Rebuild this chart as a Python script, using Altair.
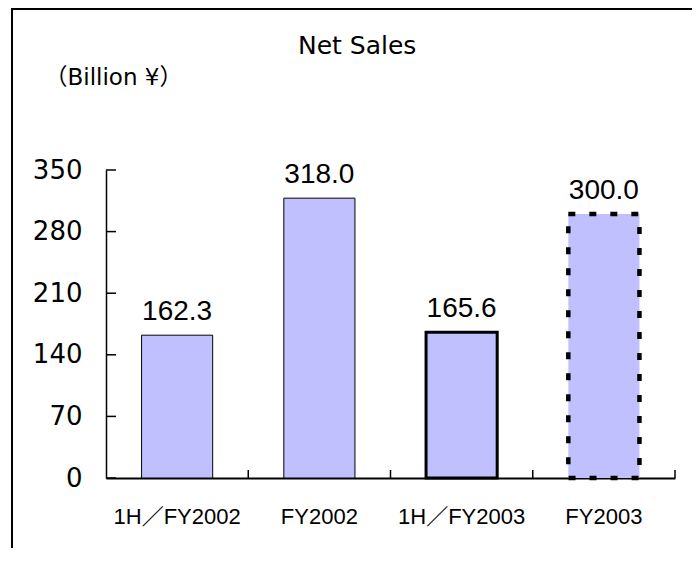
import altair as alt
import pandas as pd

# ---- data ----
categories = ["1H／FY2002", "FY2002", "1H／FY2003", "FY2003"]
net_sales = [162.3, 318.0, 165.6, 300.0]
value_labels = ["162.3", "318.0", "165.6", "300.0"]
y_tick_values = [0, 70, 140, 210, 280, 350]

df = pd.DataFrame({"period": categories, "sales": net_sales, "label": value_labels})
ticks_df = pd.DataFrame({"sales": y_tick_values})
one_df = pd.DataFrame({"k": [0]})

FONT = "Liberation Sans, Noto Sans CJK JP"
FONT_WIDE = "DejaVu Sans, Noto Sans CJK JP"
FILL = "#C0C0FF"
W, H = 569, 308
STEP = W / 4.0

xscale = alt.Scale(paddingInner=0.5, paddingOuter=0.25)
yscale = alt.Scale(domain=[0, 350], nice=False)

x_axis = alt.Axis(labelAngle=0, ticks=False, tickSize=0, labelPadding=28,
                  labelFontSize=22, labelFont=FONT, labelColor="black",
                  domainColor="black", domainWidth=2, labelBaseline="top", grid=False)
y_axis = alt.Axis(values=y_tick_values, ticks=False, tickSize=0, labelPadding=24,
                  labelFontSize=26, labelFont=FONT_WIDE, labelColor="black",
                  domainColor="black", domainWidth=1.5, grid=False,
                  titleAngle=0, titleX=-62, titleY=-86, titleAlign="left",
                  titleBaseline="alphabetic", titleFontSize=23, titleFont=FONT_WIDE,
                  titleFontWeight="normal", titleColor="black")


def X(**kw):
    return alt.X("period:N", sort=categories, scale=xscale, title=None, axis=x_axis, **kw)


def Y():
    return alt.Y("sales:Q", scale=yscale, title="（Billion ¥）", axis=y_axis)


base = alt.Chart(df)

bars_thin = base.transform_filter(
    alt.FieldOneOfPredicate(field="period", oneOf=categories[:2])
).mark_bar(fill=FILL, stroke="black", strokeWidth=1).encode(x=X(), y=Y())

bar_thick = base.transform_filter(
    alt.FieldEqualPredicate(field="period", equal=categories[2])
).mark_bar(fill=FILL, stroke="black", strokeWidth=3).encode(x=X(), y=Y())

bar_dash = base.transform_filter(
    alt.FieldEqualPredicate(field="period", equal=categories[3])
).mark_bar(fill=FILL, stroke="black", strokeWidth=4.5, strokeDash=[7, 14]).encode(
    x=X(), y=Y())

labels = base.mark_text(
    baseline="alphabetic", dy=-15, fontSize=28, font=FONT, color="black"
).encode(x=X(), y=Y(), text="label:N")

y_ticks = alt.Chart(ticks_df).mark_rule(color="black", strokeWidth=1.5).encode(
    y=Y(), x=alt.value(0), x2=alt.value(10))

x_ticks = base.mark_rule(color="black", strokeWidth=1.5, xOffset=STEP / 2).encode(
    x=X(bandPosition=0.5), y=alt.value(H), y2=alt.value(H - 8))

frame_top = alt.Chart(one_df).mark_rule(color="black", strokeWidth=2).encode(
    x=alt.value(-95), x2=alt.value(700), y=alt.value(-161))
frame_left = alt.Chart(one_df).mark_rule(color="black", strokeWidth=2).encode(
    x=alt.value(-94), y=alt.value(-162), y2=alt.value(420))

chart = alt.layer(
    bars_thin, bar_thick, bar_dash, labels, y_ticks, x_ticks, frame_top, frame_left
).properties(
    width=W, height=H,
    title=alt.TitleParams("Net Sales", anchor="start", dx=192, dy=56, fontSize=25,
                          font=FONT_WIDE, fontWeight="normal", color="black", frame="group"),
    autosize=alt.AutoSizeParams(type="none"),
    padding={"left": 98, "top": 162, "right": 17, "bottom": 70},
).configure(background="white", view=alt.ViewConfig(stroke=None))

chart.save("out.html", embed_options={"renderer": "svg", "actions": False})
